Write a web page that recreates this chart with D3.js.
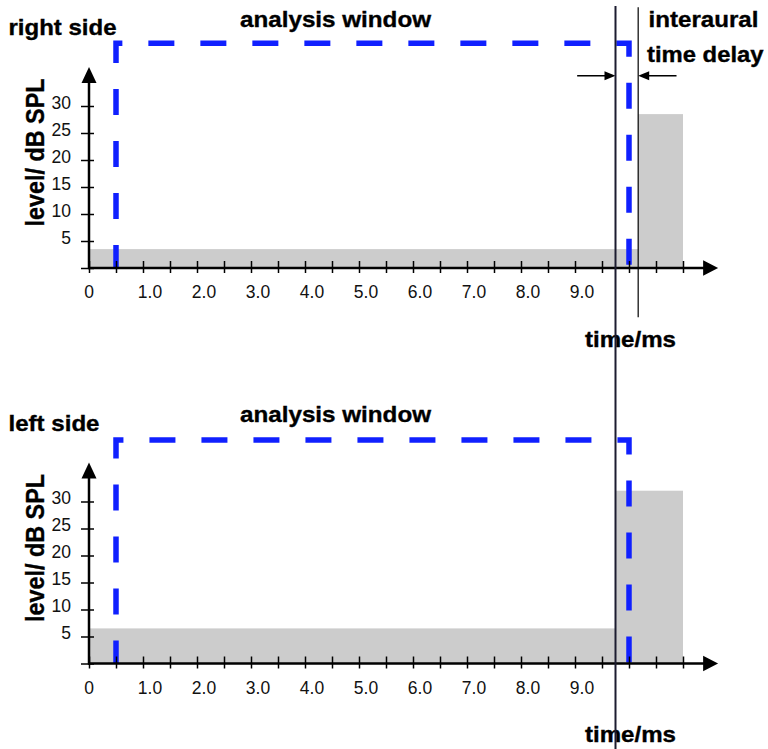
<!DOCTYPE html>
<html>
<head>
<meta charset="utf-8">
<script src="https://cdn.jsdelivr.net/npm/d3@7/dist/d3.min.js"></script>
<style>
  html, body { margin: 0; padding: 0; background: #fff; }
  svg { display: block; }
  .tick-label { font-family: "Liberation Sans Narrow", "Liberation Sans", Arial, sans-serif; font-size: 17.5px; fill: #111; }
  .title { font-family: "Liberation Sans", Arial, Helvetica, sans-serif; font-weight: bold; font-size: 22px; fill: #000; stroke: #000; stroke-width: 0.35px; }
  .axis-title { font-size: 25px; }
</style>
</head>
<body>
<svg id="chart" width="768" height="749"></svg>
<script>
// Panel names (one per ear) and their signal levels
const panelNames = ["right side", "left side"];
const lowLevels = [3.5, 6.5];        // dB SPL before the onset
const highLevels = [28.5, 32];       // dB SPL after the onset
const onsets = [10.17, 9.75];        // ms, onset of the loud part
const signalEnd = [11.0, 11.0];      // ms
const windowStart = [0.5, 0.5];      // ms, analysis window
const windowEnd = [10.0, 10.0];      // ms
const windowTop = [41.6, 41.4];      // dB, upper edge of the window outline

// Axis ticks
const timeTicks = [0, 0.5, 1, 1.5, 2, 2.5, 3, 3.5, 4, 4.5, 5, 5.5, 6, 6.5, 7, 7.5, 8, 8.5, 9, 9.5, 10, 10.5, 11];
const timeLabelValues = [0, 1, 2, 3, 4, 5, 6, 7, 8, 9];
const timeLabels = ["0", "1.0", "2.0", "3.0", "4.0", "5.0", "6.0", "7.0", "8.0", "9.0"];
const levelTicks = [0, 5, 10, 15, 20, 25, 30];
const levelLabels = ["", "5", "10", "15", "20", "25", "30"];

const svg = d3.select("#chart");
const W = 768, H = 749;
const panelBase = [268, 663.5];   // pixel row of the time axis in each panel

const x = d3.scaleLinear().domain([0, 11]).range([89, 683]);
const blue = "#1020ff";

function drawPanel(i) {
  const base = panelBase[i];
  const y = d3.scaleLinear().domain([0, 30]).range([base, base - 162]);
  const g = svg.append("g");

  // signal envelope: quiet part, then loud part
  const bars = [
    { t0: 0, t1: onsets[i], level: lowLevels[i] },
    { t0: onsets[i], t1: signalEnd[i], level: highLevels[i] }
  ];
  g.selectAll("rect.level").data(bars).join("rect")
    .attr("class", "level")
    .attr("x", d => x(d.t0))
    .attr("width", d => x(d.t1) - x(d.t0))
    .attr("y", d => y(d.level))
    .attr("height", d => y(0) - y(d.level))
    .attr("fill", "#cccccc");

  // analysis window outline
  const winPath = d3.path();
  winPath.moveTo(x(windowStart[i]), y(0));
  winPath.lineTo(x(windowStart[i]), y(windowTop[i]));
  winPath.lineTo(x(windowEnd[i]), y(windowTop[i]));
  winPath.lineTo(x(windowEnd[i]), y(0));
  g.append("path")
    .attr("d", winPath.toString())
    .attr("fill", "none")
    .attr("stroke", blue)
    .attr("stroke-width", 5.5)
    .attr("stroke-dasharray", "26,26")
    .attr("stroke-dashoffset", 3);

  // time axis ticks
  const xAxis = d3.axisBottom(x).tickValues(timeTicks).tickSize(5).tickSizeOuter(0).tickFormat("");
  const xa = g.append("g").attr("transform", `translate(0,${base})`).call(xAxis);
  xa.select(".domain").remove();
  xa.selectAll(".tick line").attr("y1", -7).attr("stroke", "#000").attr("stroke-width", 1.5);

  g.selectAll("text.xlab").data(timeLabelValues).join("text")
    .attr("class", "tick-label xlab")
    .attr("x", (d, k) => x(d) + (d === 0 ? 0 : 7))
    .attr("y", base + 30)
    .attr("text-anchor", "middle")
    .text((d, k) => timeLabels[k]);

  // level axis ticks
  const yAxis = d3.axisLeft(y).tickValues(levelTicks).tickSize(8).tickSizeOuter(0).tickFormat("");
  const ya = g.append("g").attr("transform", `translate(${x(0)},0)`).call(yAxis);
  ya.select(".domain").remove();
  ya.selectAll(".tick line").attr("x1", 5).attr("stroke", "#000").attr("stroke-width", 1.5);

  g.selectAll("text.ylab").data(levelTicks).join("text")
    .attr("class", "tick-label ylab")
    .attr("x", 71)
    .attr("y", d => y(d) + 2.5)
    .attr("text-anchor", "end")
    .text((d, k) => levelLabels[k]);

  // axis lines with arrow heads
  const yTop = y(37.2), xRight = x(11.65);
  g.append("line").attr("x1", x(0)).attr("x2", x(0)).attr("y1", base + 1).attr("y2", yTop + 12)
    .attr("stroke", "#000").attr("stroke-width", 2.5);
  g.append("path")
    .attr("d", `M${x(0)},${yTop} L${x(0) - 7.5},${yTop + 16} L${x(0) + 7.5},${yTop + 16} Z`)
    .attr("fill", "#000");
  g.append("line").attr("x1", x(0) - 1).attr("x2", xRight - 12).attr("y1", base).attr("y2", base)
    .attr("stroke", "#000").attr("stroke-width", 2.5);
  g.append("path")
    .attr("d", `M${xRight},${base} L${xRight - 15},${base - 7.8} L${xRight - 15},${base + 7.8} Z`)
    .attr("fill", "#000");

  // titles
  g.append("text").attr("class", "title")
    .attr("x", 8.5).attr("y", base - 233)
    .attr("textLength", i === 0 ? 108 : 91).attr("lengthAdjust", "spacingAndGlyphs")
    .text(panelNames[i]);
  g.append("text").attr("class", "title")
    .attr("x", 240).attr("y", base - 241.5)
    .attr("textLength", 191).attr("lengthAdjust", "spacingAndGlyphs")
    .text("analysis window");
  g.append("text").attr("class", "title")
    .attr("x", 585).attr("y", base + 78.5)
    .attr("textLength", 91).attr("lengthAdjust", "spacingAndGlyphs")
    .text("time/ms");
  const cy = base - 115.5;
  g.append("text").attr("class", "title axis-title")
    .attr("transform", `translate(44,${cy}) rotate(-90)`)
    .attr("text-anchor", "middle")
    .attr("textLength", 148).attr("lengthAdjust", "spacingAndGlyphs")
    .text("level/ dB SPL");

  return y;
}

const yRight = drawPanel(0);
drawPanel(1);

// interaural time delay annotation (upper panel)
const arrowY = yRight(35.6);
svg.append("line")
  .attr("x1", x(onsets[0])).attr("x2", x(onsets[0]))
  .attr("y1", yRight(48.3)).attr("y2", yRight(-9.1))
  .attr("stroke", "#000").attr("stroke-width", 1.2);

const arrows = [
  { from: onsets[1] - 0.71, to: onsets[1] },
  { from: onsets[0] + 0.71, to: onsets[0] }
];
arrows.forEach(a => {
  const x0 = x(a.from), x1 = x(a.to);
  const dir = Math.sign(x1 - x0);
  svg.append("line")
    .attr("x1", x0).attr("x2", x1 - dir * 9)
    .attr("y1", arrowY).attr("y2", arrowY)
    .attr("stroke", "#000").attr("stroke-width", 1.5);
  svg.append("path")
    .attr("d", `M${x1},${arrowY} L${x1 - dir * 11},${arrowY - 4.5} L${x1 - dir * 11},${arrowY + 4.5} Z`)
    .attr("fill", "#000");
});

svg.append("text").attr("class", "title")
  .attr("x", 648.5).attr("y", 26.7)
  .attr("textLength", 110).attr("lengthAdjust", "spacingAndGlyphs")
  .text("interaural");
svg.append("text").attr("class", "title")
  .attr("x", 647).attr("y", 61.5)
  .attr("textLength", 116.5).attr("lengthAdjust", "spacingAndGlyphs")
  .text("time delay");

// left-ear onset marker running through both panels
svg.append("line")
  .attr("x1", x(onsets[1])).attr("x2", x(onsets[1]))
  .attr("y1", 6).attr("y2", H)
  .attr("stroke", "#1c1c30").attr("stroke-width", 2);
</script>
</body>
</html>
